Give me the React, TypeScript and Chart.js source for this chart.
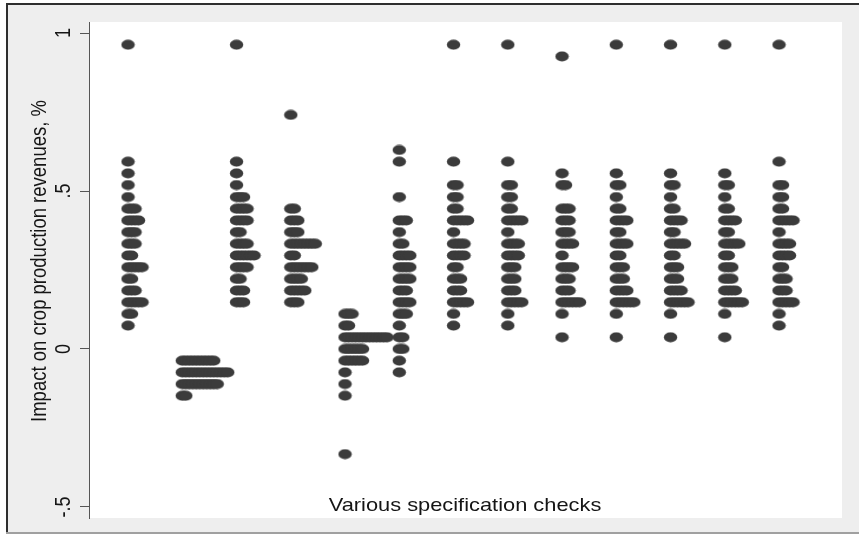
import React, { useEffect, useRef } from "react";
import { Chart, registerables } from "chart.js";

Chart.register(...registerables);

// ---- data ----
const yTickValues = [-0.5, 0, 0.5, 1];
const yTickLabels = ["-.5", "0", ".5", "1"];
const xTitle = "Various specification checks";
const yTitle = "Impact on crop production revenues, %";

// specification checks (categories along x)
const specChecks = [1, 2, 3, 4, 5, 6, 7, 8, 9, 10, 11, 12, 13];

// each entry: [estimated impact, number of estimates with that value]
const spec1: [number, number][] = [
  [0.963, 1], [0.593, 1], [0.556, 1], [0.519, 1], [0.481, 1], [0.444, 3], [0.407, 4],
  [0.370, 3], [0.333, 3], [0.296, 2], [0.259, 5], [0.222, 2], [0.185, 3], [0.148, 5],
  [0.111, 2], [0.074, 1],
];
const spec2: [number, number][] = [
  [-0.037, 10], [-0.074, 14], [-0.111, 11], [-0.148, 2],
];
const spec3: [number, number][] = [
  [0.963, 1], [0.593, 1], [0.556, 1], [0.519, 1], [0.481, 3], [0.444, 4], [0.407, 4],
  [0.370, 2], [0.333, 4], [0.296, 6], [0.259, 4], [0.222, 2], [0.185, 3], [0.148, 3],
];
const spec4: [number, number][] = [
  [0.741, 1], [0.444, 2], [0.407, 3], [0.370, 3], [0.333, 8], [0.296, 2], [0.259, 7],
  [0.222, 4], [0.185, 5], [0.148, 3],
];
const spec5: [number, number][] = [
  [0.111, 3], [0.074, 2], [0.037, 13], [0, 6], [-0.037, 6], [-0.074, 1], [-0.111, 1],
  [-0.148, 1], [-0.333, 1],
];
const spec6: [number, number][] = [
  [0.630, 1], [0.593, 1], [0.481, 1], [0.407, 3], [0.370, 1], [0.333, 2], [0.296, 4],
  [0.259, 4], [0.222, 4], [0.185, 3], [0.148, 4], [0.111, 3], [0.074, 1], [0.037, 2],
  [0, 2], [-0.037, 1], [-0.074, 1],
];
const spec7: [number, number][] = [
  [0.963, 1], [0.593, 1], [0.519, 2], [0.481, 2], [0.444, 2], [0.407, 5], [0.370, 1],
  [0.333, 4], [0.296, 4], [0.259, 2], [0.222, 3], [0.185, 3], [0.148, 5], [0.111, 1],
  [0.074, 1],
];
const spec8: [number, number][] = [
  [0.963, 1], [0.593, 1], [0.519, 2], [0.481, 2], [0.444, 2], [0.407, 5], [0.370, 1],
  [0.333, 4], [0.296, 4], [0.259, 3], [0.222, 3], [0.185, 3], [0.148, 5], [0.111, 1],
  [0.074, 1],
];
const spec9: [number, number][] = [
  [0.926, 1], [0.556, 1], [0.519, 2], [0.444, 3], [0.407, 3], [0.370, 3], [0.333, 4],
  [0.296, 1], [0.259, 4], [0.222, 3], [0.185, 3], [0.148, 6], [0.111, 1], [0.037, 1],
];
const spec10: [number, number][] = [
  [0.963, 1], [0.556, 1], [0.519, 2], [0.481, 1], [0.444, 2], [0.407, 4], [0.370, 2],
  [0.333, 4], [0.296, 2], [0.259, 3], [0.222, 3], [0.185, 4], [0.148, 6], [0.111, 1],
  [0.037, 1],
];
const spec11: [number, number][] = [
  [0.963, 1], [0.556, 1], [0.519, 2], [0.481, 1], [0.444, 2], [0.407, 4], [0.370, 2],
  [0.333, 5], [0.296, 2], [0.259, 3], [0.222, 3], [0.185, 4], [0.148, 6], [0.111, 1],
  [0.037, 1],
];
const spec12: [number, number][] = [
  [0.963, 1], [0.556, 1], [0.519, 2], [0.481, 1], [0.444, 2], [0.407, 4], [0.370, 2],
  [0.333, 5], [0.296, 2], [0.259, 3], [0.222, 3], [0.185, 4], [0.148, 6], [0.111, 1],
  [0.037, 1],
];
const spec13: [number, number][] = [
  [0.963, 1], [0.593, 1], [0.519, 2], [0.481, 2], [0.444, 2], [0.407, 5], [0.370, 1],
  [0.333, 4], [0.296, 4], [0.259, 2], [0.222, 3], [0.185, 3], [0.148, 5], [0.111, 1],
  [0.074, 1],
];

const specData = [spec1, spec2, spec3, spec4, spec5, spec6, spec7, spec8, spec9, spec10, spec11, spec12, spec13];

// ---- styling ----
const DOT_COLOR = "#3b3b3b";
const STACK_STEP = 0.0645; // horizontal offset between stacked dots, in x units
const FONT = "'Liberation Sans', Arial, Helvetica, sans-serif";
const TEXT_STRETCH = 1.18;

function buildPoints() {
  const pts: { x: number; y: number }[] = [];
  specData.forEach((rows, idx) => {
    const x0 = specChecks[idx];
    rows.forEach(([v, n]) => {
      for (let i = 0; i < n; i++) pts.push({ x: x0 + i * STACK_STEP, y: v });
    });
  });
  return pts;
}

function makeDot() {
  const c = document.createElement("canvas");
  c.width = 15;
  c.height = 11;
  const g = c.getContext("2d")!;
  g.fillStyle = DOT_COLOR;
  g.beginPath();
  g.ellipse(7.5, 5.5, 6.7, 4.9, 0, 0, Math.PI * 2);
  g.fill();
  return c;
}

const framePlugin = {
  id: "stataFrame",
  beforeDraw(chart: any) {
    const { ctx, chartArea: a, width, height } = chart;
    ctx.save();
    ctx.fillStyle = "#ffffff";
    ctx.fillRect(0, 0, width, height);
    ctx.fillStyle = "#eeeeee";
    ctx.fillRect(7, 4, width - 7, 529);
    ctx.fillStyle = "#2e2e2e";
    ctx.fillRect(6, 3, width - 6, 2);
    ctx.fillRect(6, 3, 2, 531);
    ctx.fillStyle = "#a0a0a0";
    ctx.fillRect(6, 532, width - 6, 2);
    ctx.fillStyle = "#ffffff";
    ctx.fillRect(a.left, a.top, a.right - a.left, a.bottom - a.top);
    ctx.restore();
  },
  afterDraw(chart: any) {
    const { ctx, chartArea: a } = chart;
    const ys = chart.scales.y;
    ctx.save();
    ctx.fillStyle = "#151515";
    // y tick labels (rotated)
    ctx.font = `18px ${FONT}`;
    ctx.textAlign = "center";
    ctx.textBaseline = "middle";
    yTickValues.forEach((v, i) => {
      const py = ys.getPixelForValue(v);
      ctx.save();
      ctx.translate(a.left - 25, py);
      ctx.scale(TEXT_STRETCH, 1);
      ctx.rotate(-Math.PI / 2);
      ctx.fillText(yTickLabels[i], 0, 0);
      ctx.restore();
    });
    // y title
    ctx.save();
    ctx.font = `18.5px ${FONT}`;
    ctx.translate(a.left - 49, (a.top + a.bottom) / 2 - 9);
    ctx.scale(TEXT_STRETCH, 1);
    ctx.rotate(-Math.PI / 2);
    ctx.fillText(yTitle, 0, 0);
    ctx.restore();
    // x title
    ctx.save();
    ctx.font = `18.5px ${FONT}`;
    ctx.textBaseline = "alphabetic";
    ctx.translate(465, a.bottom - 7);
    ctx.scale(TEXT_STRETCH, 1);
    ctx.fillText(xTitle, 0, 0);
    ctx.restore();
    ctx.restore();
  },
};

export default function App() {
  const ref = useRef<HTMLCanvasElement | null>(null);

  useEffect(() => {
    if (!ref.current) return;
    const dot = makeDot();
    const chart = new Chart(ref.current, {
      type: "scatter",
      data: {
        datasets: [
          {
            data: buildPoints(),
            pointStyle: dot as any,
            pointRadius: 7,
            pointHoverRadius: 7,
            backgroundColor: DOT_COLOR,
            borderWidth: 0,
          },
        ],
      },
      options: {
        animation: false,
        responsive: false,
        devicePixelRatio: 1,
        events: [],
        layout: { padding: { left: 80, top: 22, right: 17, bottom: 17 } },
        plugins: { legend: { display: false }, tooltip: { enabled: false } },
        scales: {
          x: { type: "linear", display: false, min: 0.281, max: 14.161 },
          y: {
            type: "linear",
            min: -0.535,
            max: 1.035,
            afterBuildTicks: (s: any) => {
              s.ticks = yTickValues.map((v) => ({ value: v }));
            },
            ticks: { display: false },
            grid: { drawOnChartArea: false, drawTicks: true, tickLength: 9, color: "#555555", lineWidth: 1 },
            border: { display: true, color: "#555555", width: 1 },
          },
        },
      },
      plugins: [framePlugin],
    });
    return () => chart.destroy();
  }, []);

  return (
    <div style={{ position: "fixed", left: 0, top: 0, width: 859, height: 535 }}>
      <canvas ref={ref} width={859} height={535} style={{ display: "block", width: 859, height: 535 }} />
    </div>
  );
}
